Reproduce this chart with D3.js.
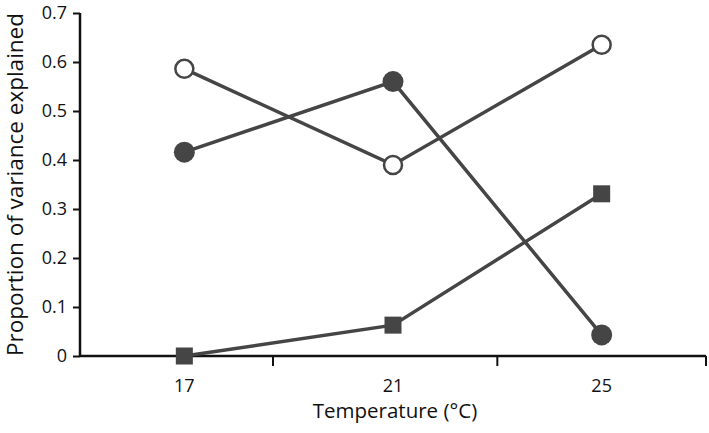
<!DOCTYPE html>
<html>
<head>
<meta charset="utf-8">
<script src="https://cdn.jsdelivr.net/npm/d3@7"></script>
<style>
  body { margin: 0; background: #fff; }
  text { font-family: "Open Sans", "Noto Sans", sans-serif; fill: #111; }
</style>
</head>
<body>
<svg id="main" width="709" height="433"></svg>
<script>
// temperatures and the three series
var temps = [17, 21, 25];
var openCircle = [0.586, 0.39, 0.635];
var filledCircle = [0.416, 0.56, 0.043];
var squares = [0, 0.063, 0.331];
var yTicks = [0, 0.1, 0.2, 0.3, 0.4, 0.5, 0.6, 0.7];
var xTickMarks = [18.7, 23, 27];

var svg = d3.select("#main");
var ink = "#454545";

var x = d3.scaleLinear().domain([15, 27]).range([80, 706]);
var y = d3.scaleLinear().domain([0, 0.7]).range([356, 13]);

// y axis
var yAxis = svg.append("g").attr("transform", "translate(" + x(15) + ",0)")
    .call(d3.axisLeft(y).tickValues(yTicks).tickSize(7).tickPadding(6)
        .tickFormat(function(d){ return d === 0 ? "0" : d3.format(".1f")(d); }));
yAxis.select(".domain").attr("stroke", "#111").attr("stroke-width", 2.5).attr("d", "M0," + y(0) + "V" + y(0.7));
yAxis.selectAll(".tick line").attr("stroke", "#111").attr("stroke-width", 2);
yAxis.selectAll(".tick text").style("font-size", "18px");

// x axis: labels at temps, tick marks in between
var xAxis = svg.append("g").attr("transform", "translate(0," + y(0) + ")");
xAxis.append("path").attr("stroke", "#111").attr("stroke-width", 2.5)
    .attr("d", "M" + x(15) + ",0H" + x(27));
xAxis.selectAll(".xt").data(xTickMarks).enter().append("line")
    .attr("x1", d => x(d)).attr("x2", d => x(d))
    .attr("y1", 0).attr("y2", 10)
    .attr("stroke", "#111").attr("stroke-width", 2);
xAxis.selectAll(".xl").data(temps).enter().append("text")
    .attr("x", d => x(d)).attr("y", 36)
    .attr("text-anchor", "middle")
    .style("font-size", "18px")
    .text(d => d);

// titles
svg.append("text")
    .attr("transform", "translate(23," + ((y(0) + y(0.7)) / 2) + ") rotate(-90)")
    .attr("text-anchor", "middle")
    .style("font-size", "22.5px")
    .text("Proportion of variance explained");
svg.append("text")
    .attr("x", 395).attr("y", 418)
    .attr("text-anchor", "middle")
    .style("font-size", "20.5px")
    .text("Temperature (\u00B0C)");

var line = d3.line().x((d, i) => x(temps[i])).y(d => y(d));

function series(vals, shape){
    var g = svg.append("g");
    g.append("path").datum(vals)
        .attr("d", line)
        .attr("fill", "none")
        .attr("stroke", ink)
        .attr("stroke-width", 3.5);
    if (shape === "square") {
        g.selectAll("rect").data(vals).enter().append("rect")
            .attr("x", (d, i) => x(temps[i]) - 8.5)
            .attr("y", d => y(d) - 8.5)
            .attr("width", 17).attr("height", 17)
            .attr("fill", ink);
    } else if (shape === "open") {
        g.selectAll("circle").data(vals).enter().append("circle")
            .attr("cx", (d, i) => x(temps[i]))
            .attr("cy", d => y(d))
            .attr("r", 9)
            .attr("fill", "#fff")
            .attr("stroke", ink)
            .attr("stroke-width", 2.5);
    } else {
        g.selectAll("circle").data(vals).enter().append("circle")
            .attr("cx", (d, i) => x(temps[i]))
            .attr("cy", d => y(d))
            .attr("r", 10.5)
            .attr("fill", ink);
    }
}

series(squares, "square");
series(filledCircle, "filled");
series(openCircle, "open");
</script>
</body>
</html>
